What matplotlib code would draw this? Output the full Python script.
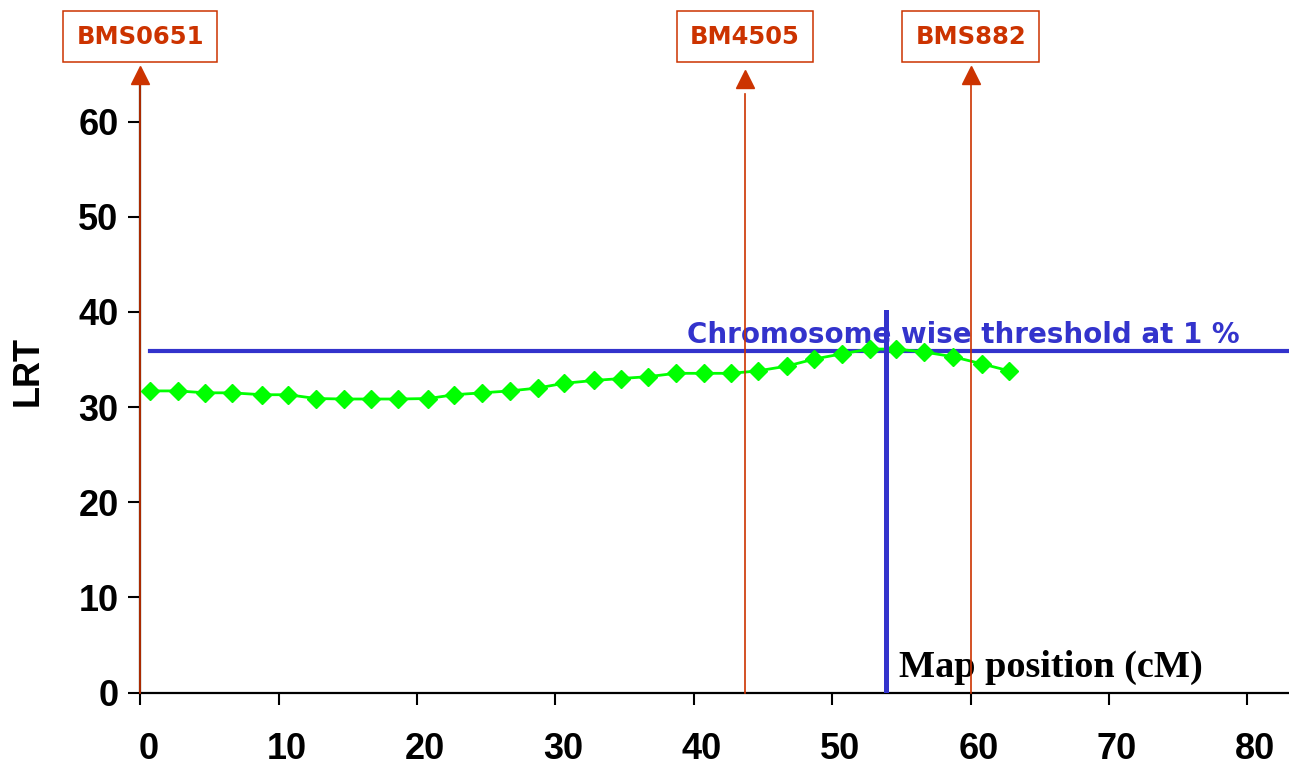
import matplotlib
matplotlib.use("Agg")
import matplotlib.pyplot as plt
import matplotlib.transforms as mtransforms

# LRT profile along the chromosome
pos_cm = [0.7, 2.7, 4.7, 6.6, 8.8, 10.7, 12.7, 14.7, 16.7, 18.6,
          20.8, 22.7, 24.7, 26.7, 28.7, 30.6, 32.8, 34.7, 36.7, 38.7,
          40.7, 42.7, 44.6, 46.7, 48.7, 50.7, 52.7, 54.6, 56.6, 58.7,
          60.8, 62.8]
lrt = [31.7, 31.7, 31.5, 31.5, 31.3, 31.3, 30.9, 30.85, 30.85, 30.85,
       30.9, 31.3, 31.5, 31.7, 32.0, 32.5, 32.8, 33.0, 33.2, 33.55,
       33.55, 33.55, 33.8, 34.3, 35.05, 35.6, 36.1, 36.1, 35.8, 35.3,
       34.55, 33.8]

marker_names = ["BMS0651", "BM4505", "BMS882"]
marker_pos = [0.0, 43.7, 60.0]

threshold = 35.85
threshold_label = "Chromosome wise threshold at 1 %"
qtl_pos = 53.9

x_ticks = [0, 10, 20, 30, 40, 50, 60, 70, 80]
y_ticks = [0, 10, 20, 30, 40, 50, 60]

red = "#CC3300"
blue = "#3333CC"
green = "#00FF00"

plt.rcParams["font.family"] = "Liberation Sans"
plt.rcParams["font.weight"] = "bold"

W, H = 1289, 769
fig = plt.figure(figsize=(W / 100, H / 100), dpi=100)
ax = fig.add_axes([140.3 / W, 76.5 / H, 1 - 140.3 / W, (692.5 - 64.6) / H])
ax.set_xlim(0, 83)
ax.set_ylim(0, 66)

for s in ["top", "right"]:
    ax.spines[s].set_visible(False)
ax.spines["bottom"].set_linewidth(1.6)
ax.spines["left"].set_linewidth(1.6)
ax.spines["left"].set_bounds(0, 64)

ax.set_xticks(x_ticks)
ax.set_yticks(y_ticks)
ax.tick_params(axis="both", direction="out", length=8.6, width=1.5,
               labelsize=26)
ax.tick_params(axis="x", pad=20)
ax.tick_params(axis="y", pad=7)

# x labels sit a little right of their ticks
shift = mtransforms.ScaledTranslation(8 / 100, 0, fig.dpi_scale_trans)
for lbl in ax.get_xticklabels():
    lbl.set_transform(lbl.get_transform() + shift)

# --------------------------------------------------
# marker arrows + labels
# --------------------------------------------------
line_tops = [64.0, 62.9, 64.0]
head_y = [64.95, 64.45, 64.95]
box_tr = mtransforms.blended_transform_factory(ax.transData, fig.transFigure)

for name, xm, top, hy in zip(marker_names, marker_pos, line_tops, head_y):
    ax.plot([xm, xm], [0, top], color=red, lw=1.2, clip_on=False, zorder=5)
    ax.plot(xm, hy, marker="^", markersize=12.5, color=red, clip_on=False,
            zorder=5)
    ax.text(xm, 1 - 36.7 / H, name, transform=box_tr, ha="center",
            va="center", fontsize=17.5, fontweight="bold",
            family="DejaVu Sans", color=red,
            bbox=dict(boxstyle="square,pad=0.55", fc="white", ec=red, lw=1.1))

# --------------------------------------------------
# threshold + QTL position
# --------------------------------------------------
ax.plot([pos_cm[0], 83], [threshold, threshold], color=blue, lw=3,
        clip_on=False, zorder=3)
ax.text(39.48, 36.7, threshold_label, ha="left", va="baseline",
        fontsize=20, fontweight="bold", family="DejaVu Sans", color=blue,
        zorder=2)
ax.plot([qtl_pos, qtl_pos], [0, 40], color=blue, lw=3.6, zorder=6)

# profile
ax.plot(pos_cm, lrt, color=green, lw=2, marker="D", markersize=9,
        markeredgecolor=green, zorder=4)

ax.text(54.8, 1.6, "Map position (cM)", ha="left", va="baseline",
        fontsize=27.5, fontweight="bold", family="Liberation Serif",
        color="black", zorder=2)

fig.text(28 / W, 1 - 371.5 / H, "LRT", rotation=90, ha="center",
         va="center", fontsize=26, fontweight="bold")

fig.savefig("out.png", dpi=100)
